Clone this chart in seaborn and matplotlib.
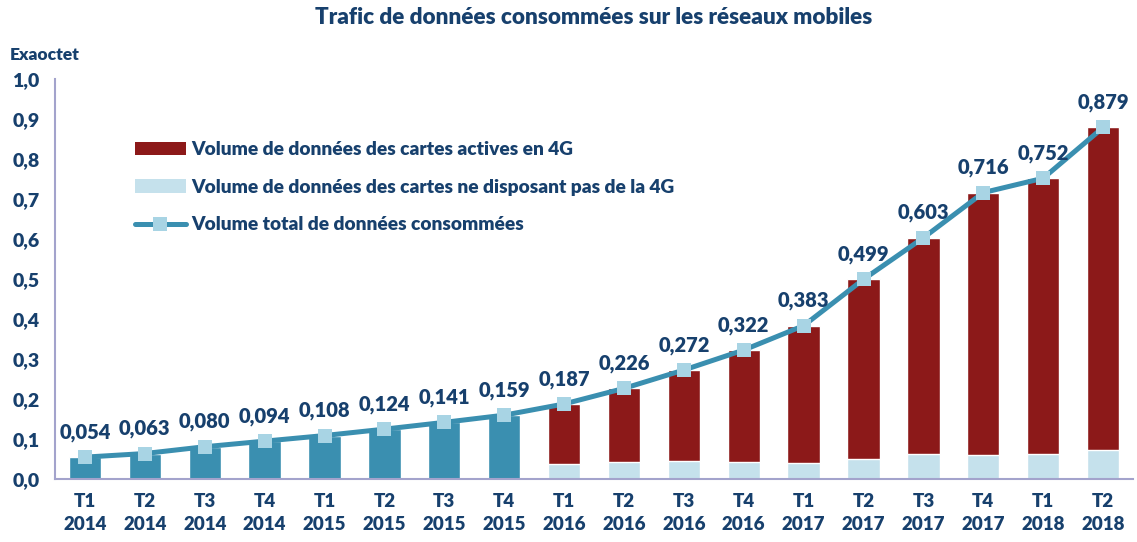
import matplotlib
matplotlib.use("Agg")
import matplotlib.pyplot as plt
import seaborn as sns
import numpy as np
import pandas as pd
from matplotlib.patches import Patch
from matplotlib.lines import Line2D
from matplotlib.ticker import FuncFormatter

quarters = ["T1", "T2", "T3", "T4", "T1", "T2", "T3", "T4", "T1",
            "T2", "T3", "T4", "T1", "T2", "T3", "T4", "T1", "T2"]
years = ["2014"] * 4 + ["2015"] * 4 + ["2016"] * 4 + ["2017"] * 4 + ["2018"] * 2
total = [0.054, 0.063, 0.080, 0.094, 0.108, 0.124, 0.141, 0.159, 0.187,
         0.226, 0.272, 0.322, 0.383, 0.499, 0.603, 0.716, 0.752, 0.879]
# volume des cartes sans 4G (seulement a partir de 2016)
non_4g = [None] * 8 + [0.038, 0.041, 0.044, 0.042, 0.039, 0.049,
                       0.062, 0.059, 0.061, 0.073]

labels = [f"{q}\n{y}" for q, y in zip(quarters, years)]
df = pd.DataFrame({"periode": labels, "total": total, "non_4g": non_4g})
df["split"] = df["non_4g"].notna()

TEXT = "#17406D"
TEAL = "#3A8FB0"
RED = "#8C1919"
LIGHT = "#C5E1EC"
MARK = "#A8D4E4"
SPINE = "#A3A3CC"
W = "heavy"

sns.set_theme(style="white")
plt.rcParams["font.family"] = ["Lato", "DejaVu Sans"]
plt.rcParams["font.weight"] = W

fig = plt.figure(figsize=(11.37, 5.42), dpi=100)
ax = fig.add_axes([0.0484, 0.1168, 0.9481, 0.7372])

bw = 0.54
sns.barplot(data=df[~df["split"]], x="periode", y="total", order=labels,
            color=TEAL, saturation=1, width=bw, ax=ax)
sns.barplot(data=df[df["split"]], x="periode", y="total", order=labels,
            color=RED, saturation=1, width=bw, ax=ax)
sns.barplot(data=df[df["split"]], x="periode", y="non_4g", order=labels,
            color=LIGHT, saturation=1, width=bw, ax=ax)

x = np.arange(len(labels))
sns.lineplot(x=x, y=total, color=TEAL, linewidth=3.6, marker="s",
             markersize=10, markerfacecolor=MARK, markeredgewidth=0, ax=ax)

for xi, v in zip(x, total):
    ax.annotate(f"{v:.3f}".replace(".", ","), (xi, v), xytext=(0, 11),
                textcoords="offset points", ha="center", va="bottom",
                fontsize=14.5, fontweight=W, color=TEXT)

ax.set_xlim(-0.5, len(labels) - 0.5)
ax.set_ylim(0, 1.0)
ax.set_yticks(np.arange(0, 1.01, 0.1))
ax.yaxis.set_major_formatter(FuncFormatter(lambda v, p: f"{v:.1f}".replace(".", ",")))
ax.set_xticks(x)
ax.set_xticklabels(labels)
ax.set_xticks(np.arange(-0.5, len(labels), 1), minor=True)
ax.set_xlabel("")
ax.set_ylabel("")

ax.tick_params(axis="x", which="major", length=0, pad=10, labelsize=13.5, labelcolor=TEXT)
ax.tick_params(axis="x", which="minor", length=7, width=1.2, color=SPINE, direction="out")
ax.tick_params(axis="y", length=6, width=1.2, color=SPINE, direction="out",
               pad=5, labelsize=14, labelcolor=TEXT)
for lab in ax.get_xticklabels():
    lab.set_fontweight(W)
    lab.set_linespacing(1.45)
for lab in ax.get_yticklabels():
    lab.set_fontweight(W)

for side in ["top", "right"]:
    ax.spines[side].set_visible(False)
for side in ["left", "bottom"]:
    ax.spines[side].set_color(SPINE)
    ax.spines[side].set_linewidth(1.5)

handles = [
    Patch(facecolor=RED, edgecolor="none"),
    Patch(facecolor=LIGHT, edgecolor="none"),
    Line2D([0], [0], color=TEAL, linewidth=3.6, marker="s", markersize=10,
           markerfacecolor=MARK, markeredgewidth=0),
]
leg = ax.legend(handles,
                ["Volume de données des cartes actives en 4G",
                 "Volume de données des cartes ne disposant pas de la 4G",
                 "Volume total de données consommées"],
                loc="upper left", bbox_to_anchor=(0.074, 0.845), frameon=False,
                borderpad=0, borderaxespad=0, handlelength=2.65, handleheight=0.7,
                handletextpad=0.3, labelspacing=1.08, prop={"size": 13.8, "weight": W})
for t in leg.get_texts():
    t.set_color(TEXT)

fig.text(0.5225, 0.967, "Trafic de données consommées sur les réseaux mobiles",
         ha="center", va="center", fontsize=16.2, fontweight=W, color=TEXT)
fig.text(0.009, 0.898, "Exaoctet", ha="left", va="center",
         fontsize=12.5, fontweight=W, color=TEXT)

fig.savefig("out.png", dpi=100)
